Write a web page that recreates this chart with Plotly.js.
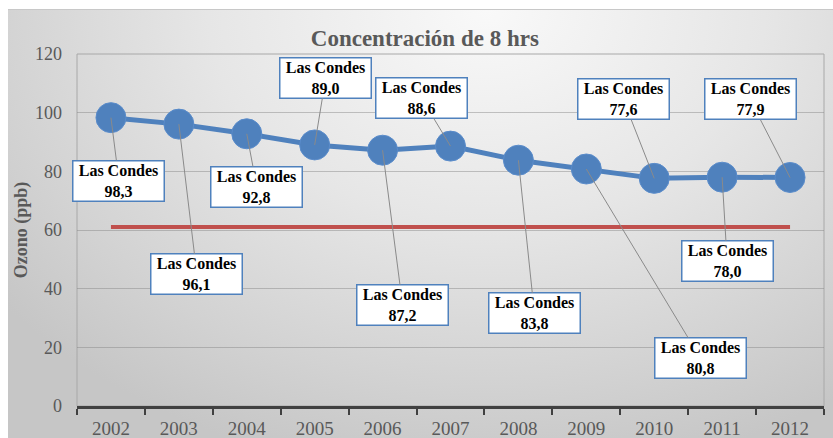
<!DOCTYPE html>
<html>
<head>
<meta charset="utf-8">
<script src="https://cdn.plot.ly/plotly-3.0.1.min.js"></script>
<style>
  html, body { margin: 0; padding: 0; background: #ffffff; }
  #wrap { position: relative; width: 833px; height: 438px; overflow: hidden; }
  #bg { position: absolute; left: 8px; top: 9px; right: 0; bottom: 0;
        border-top: 1px solid #c8c8c8;
        background: radial-gradient(ellipse 75% 110% at 58% 0%, #f9f9f9 0%, #e6e6e6 45%, #d2d2d2 80%, #c6c6c6 100%); }
  #chart { position: absolute; left: 0; top: 0; width: 833px; height: 438px; }
</style>
</head>
<body>
<div id="wrap">
  <div id="bg"></div>
  <div id="chart"></div>
</div>
<script>
var years = ['2002','2003','2004','2005','2006','2007','2008','2009','2010','2011','2012'];
var ozono = [98.3, 96.1, 92.8, 89.0, 87.2, 88.6, 83.8, 80.8, 77.6, 78.0, 77.9];
var norma = [61, 61, 61, 61, 61, 61, 61, 61, 61, 61, 61];
var labelName = 'Las Condes';
var labelText = ['98,3','96,1','92,8','89,0','87,2','88,6','83,8','80,8','77,6','78,0','77,9'];
// label box offsets (pixels) from each point
var offX = [8, 18, 10, 11, 20, -29, 16, 114, -31, 5, -40];
var offY = [63, 150, 53, -67, 155, -48, 153, 189, -79, 84, -78];

var blue = '#4F81BD';
var red = '#C0504D';
var grey = '#595959';
var serif = '"Liberation Serif", "Times New Roman", serif';

var traces = [
  { x: years, y: norma, type: 'scatter', mode: 'lines',
    line: { color: red, width: 4 }, hoverinfo: 'skip' },
  { x: years, y: ozono, type: 'scatter', mode: 'lines+markers',
    line: { color: blue, width: 5 },
    marker: { color: blue, size: 30, line: { color: '#5a8ccb', width: 1 } },
    hoverinfo: 'skip' }
];

var annotations = years.map(function (yr, i) {
  return {
    x: i, y: ozono[i], xref: 'x', yref: 'y',
    text: '<b>' + labelName + '<br>' + labelText[i] + '</b>',
    showarrow: true, arrowhead: 0, arrowwidth: 1, arrowcolor: '#8a8a8a',
    standoff: 0, ax: offX[i], ay: offY[i],
    bgcolor: '#ffffff', bordercolor: blue, borderwidth: 1.5, borderpad: 1,
    width: 88, height: 37,
    font: { family: serif, size: 16, color: '#000000' }
  };
});

var layout = {
  width: 833, height: 438,
  margin: { l: 77, r: 9, t: 54, b: 32 },
  paper_bgcolor: 'rgba(0,0,0,0)',
  plot_bgcolor: 'rgba(0,0,0,0)',
  showlegend: false,
  hovermode: false,
  title: { text: '<b>Concentración de 8 hrs</b>', font: { family: serif, size: 23, color: grey },
           x: 0.51, xref: 'container', xanchor: 'center', y: 0.913, yref: 'container', yanchor: 'middle' },
  xaxis: {
    type: 'category', range: [-0.5, years.length - 0.5], autorange: false,
    tickson: 'boundaries', ticks: 'outside', ticklen: 6, tickwidth: 2,
    tickcolor: '#404040', showline: true, linewidth: 3, linecolor: '#404040',
    showgrid: false, ticklabelstandoff: 3, tickangle: 0,
    tickfont: { family: serif, size: 19, color: grey }
  },
  yaxis: {
    range: [0, 120], autorange: false, dtick: 20, showgrid: true, gridcolor: 'rgba(130,130,130,0.45)', gridwidth: 1,
    zeroline: false, showline: false, ticks: '', ticklabelstandoff: 14,
    tickfont: { family: serif, size: 18, color: grey },
    title: { text: '<b>Ozono (ppb)</b>', font: { family: serif, size: 18, color: grey }, standoff: 2 }
  },
  shapes: [
    { type: 'rect', xref: 'paper', yref: 'paper', x0: 0, x1: 1, y0: 0, y1: 1,
      line: { color: '#a8a8a8', width: 1 }, layer: 'below' }
  ],
  annotations: annotations
};

Plotly.newPlot('chart', traces, layout, { displayModeBar: false, staticPlot: true });
</script>
</body>
</html>
